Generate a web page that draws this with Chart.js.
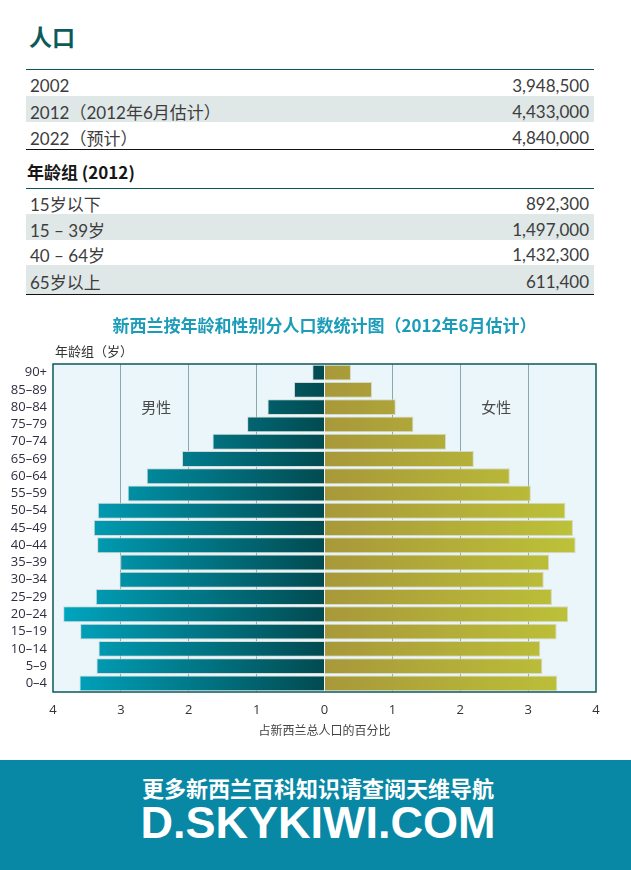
<!DOCTYPE html>
<html lang="zh">
<head>
<meta charset="UTF-8">
<title>人口</title>
<script src="https://cdn.jsdelivr.net/npm/chart.js"></script>
<style>
    body {
        margin: 0;
        background: #fff;
        font-family: Lato, "Noto Sans CJK SC", sans-serif;
    }
    #page {
        position: relative;
        width: 631px;
        height: 870px;
        overflow: hidden;
    }
    h1 {
        position: absolute;
        left: 29px;
        top: 25px;
        margin: 0;
        font: bold 23px/23px "Noto Sans CJK SC", sans-serif;
        color: #0c5a5a;
    }
    .tbl {
        position: absolute;
        left: 26px;
        width: 568px;
        border-top: 1.5px solid #0b5757;
        border-bottom: 1.5px solid #111;
    }
    .row {
        display: flex;
        justify-content: space-between;
        align-items: center;
        box-sizing: border-box;
        padding: 4px 5px 0 4px;
        font-size: 17px;
        color: #3d3d3d;
    }
    .row.alt { background: #dfe7e7; }
    #ageHead {
        position: absolute;
        left: 27px;
        top: 161px;
        font: bold 17px/22px "Noto Sans CJK SC", sans-serif;
        color: #161616;
    }
    #chartBox {
        position: absolute;
        left: 0;
        top: 300px;
        width: 631px;
        height: 450px;
    }
    #footer {
        position: absolute;
        left: 0;
        top: 760px;
        width: 631px;
        height: 110px;
        background: #0888a4;
        color: #fff;
    }
    #footer div {
        position: absolute;
        left: 0;
        width: 636px;
        text-align: center;
        white-space: nowrap;
    }
    .f1 { top: 16px; font: bold 22px/22px "Noto Sans CJK SC", sans-serif; }
    .f2 { top: 40px; font: bold 45px/45px "Liberation Sans", Arial, sans-serif; }
</style>
</head>
<body>
<div id="page">
    <h1>人口</h1>
    <div class="tbl" id="totalTable" style="top:69px"></div>
    <div id="ageHead">年龄组 (2012)</div>
    <div class="tbl" id="ageTable" style="top:188px"></div>

    <div id="chartBox">
        <canvas id="pyramid"></canvas>
    </div>

    <div id="footer">
        <div class="f1">更多新西兰百科知识请查阅天维导航</div>
        <div class="f2">D.SKYKIWI.COM</div>
    </div>
</div>
<script>
    // table contents
    const totalLabels = ['2002', '2012（2012年6月估计）', '2022（预计）'];
    const totalValues = ['3,948,500', '4,433,000', '4,840,000'];
    const ageLabels = ['15岁以下', '15 – 39岁', '40 – 64岁', '65岁以上'];
    const ageValues = ['892,300', '1,497,000', '1,432,300', '611,400'];

    // pyramid data (% of total population)
    const ageGroups = ['90+', '85–89', '80–84', '75–79', '70–74', '65–69', '60–64', '55–59', '50–54',
        '45–49', '40–44', '35–39', '30–34', '25–29', '20–24', '15–19', '10–14', '5–9', '0–4'];
    const malePct = [0.18, 0.45, 0.84, 1.14, 1.65, 2.10, 2.62, 2.90, 3.34,
        3.40, 3.35, 3.01, 3.02, 3.37, 3.85, 3.60, 3.33, 3.36, 3.61];
    const femalePct = [0.39, 0.70, 1.05, 1.31, 1.79, 2.20, 2.73, 3.04, 3.55,
        3.66, 3.70, 3.31, 3.23, 3.35, 3.59, 3.42, 3.18, 3.21, 3.43];

    function fillTable(id, labels, values, heights) {
        const box = document.getElementById(id);
        labels.forEach((lab, i) => {
            const row = document.createElement('div');
            row.className = 'row' + (i % 2 === 1 ? ' alt' : '');
            row.style.height = heights[i] + 'px';
            row.innerHTML = '<span>' + lab + '</span><span>' + values[i] + '</span>';
            box.appendChild(row);
        });
    }
    fillTable('totalTable', totalLabels, totalValues, [26, 26, 27]);
    fillTable('ageTable', ageLabels, ageValues, [25, 26, 25, 29]);

    function axisGradient(chart, fromVal, toVal, c0, c1) {
        const x = chart.scales.x;
        if (!x || !chart.chartArea) return c1;
        const g = chart.ctx.createLinearGradient(x.getPixelForValue(fromVal), 0, x.getPixelForValue(toVal), 0);
        g.addColorStop(0, c0);
        g.addColorStop(1, c1);
        return g;
    }

    // background, frame and in-plot labels
    const pyramidDecor = {
        id: 'pyramidDecor',
        beforeDraw(chart) {
            const { ctx, chartArea: a } = chart;
            ctx.save();
            ctx.fillStyle = '#eaf6f9';
            ctx.fillRect(a.left, a.top, a.right - a.left, a.bottom - a.top);
            ctx.restore();
        },
        afterDatasetsDraw(chart) {
            const { ctx, chartArea: a } = chart;
            ctx.save();
            ctx.strokeStyle = '#0b5a5a';
            ctx.lineWidth = 1.5;
            ctx.strokeRect(a.left, a.top, a.right - a.left, a.bottom - a.top);
            ctx.restore();
        },
        afterDraw(chart) {
            const { ctx, chartArea: a, scales } = chart;
            ctx.save();
            ctx.textBaseline = 'middle';
            ctx.textAlign = 'center';
            ctx.fillStyle = '#1b9cb9';
            ctx.font = 'bold 17px "Noto Sans CJK SC", sans-serif';
            ctx.fillText('新西兰按年龄和性别分人口数统计图（2012年6月估计）', (a.left + a.right) / 2, a.top - 38);

            ctx.textAlign = 'left';
            ctx.fillStyle = '#333';
            ctx.font = '13px "Noto Sans CJK SC", sans-serif';
            ctx.fillText('年龄组（岁）', a.left + 2, a.top - 13);

            ctx.textAlign = 'center';
            ctx.fillStyle = '#4a4a4a';
            ctx.font = '15px "Noto Sans CJK SC", sans-serif';
            const yPos = scales.y.getPixelForValue(2);
            ctx.fillText('男性', scales.x.getPixelForValue(-2.48), yPos);
            ctx.fillText('女性', scales.x.getPixelForValue(2.53), yPos);
            ctx.restore();
        }
    };

    Chart.defaults.font.family = '"Open Sans", "Noto Sans CJK SC", sans-serif';

    const chart = new Chart(document.getElementById('pyramid').getContext('2d'), {
        type: 'bar',
        data: {
            labels: ageGroups,
            datasets: [
                {
                    label: '男性',
                    data: malePct.map(v => -v),
                    backgroundColor: c => axisGradient(c.chart, -4, 0, '#00a9c4', '#024a50'),
                    borderColor: '#d3dad8',
                    borderWidth: 1,
                    barPercentage: 0.92,
                    categoryPercentage: 1
                },
                {
                    label: '女性',
                    data: femalePct,
                    backgroundColor: c => axisGradient(c.chart, 0, 4, '#a8983a', '#bfc538'),
                    borderColor: '#d6d9c8',
                    borderWidth: 1,
                    barPercentage: 0.92,
                    categoryPercentage: 1
                }
            ]
        },
        options: {
            indexAxis: 'y',
            responsive: true,
            maintainAspectRatio: false,
            animation: false,
            layout: {
                padding: { top: 64, right: 35, left: 0, bottom: 0 }
            },
            scales: {
                x: {
                    min: -4,
                    max: 4,
                    stacked: true,
                    afterFit: s => { s.height = 58; },
                    ticks: {
                        stepSize: 1,
                        padding: 10,
                        color: '#333',
                        font: { size: 13 },
                        callback: v => Math.abs(v)
                    },
                    grid: {
                        drawTicks: false,
                        color: c => (c.tick && [-4, 0, 4].includes(c.tick.value)) ? 'rgba(0,0,0,0)' : '#8ba8ad'
                    },
                    border: { display: false },
                    title: {
                        display: true,
                        text: '占新西兰总人口的百分比',
                        color: '#444',
                        font: { size: 12 },
                        padding: { top: 4, bottom: 11 }
                    }
                },
                y: {
                    stacked: true,
                    afterFit: s => { s.width = 53; },
                    ticks: {
                        autoSkip: false,
                        padding: 6,
                        color: '#2e2e40',
                        font: { size: 13 }
                    },
                    grid: { display: false, drawTicks: false },
                    border: { display: false }
                }
            },
            plugins: {
                legend: { display: false },
                tooltip: { enabled: false }
            }
        },
        plugins: [pyramidDecor]
    });
</script>
</body>
</html>
